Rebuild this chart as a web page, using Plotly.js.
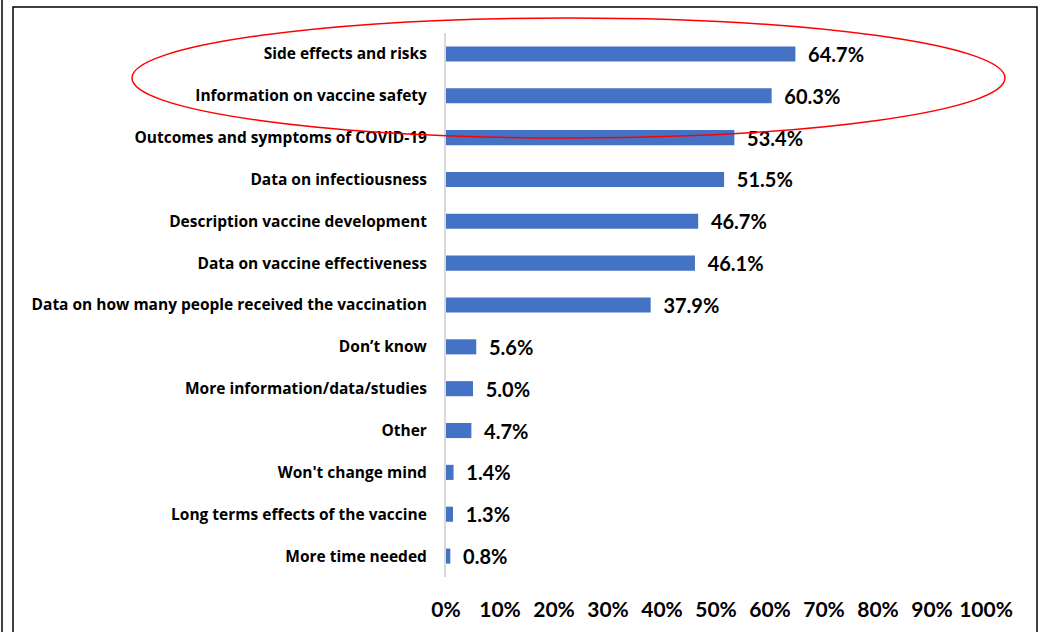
<!DOCTYPE html>
<html><head><meta charset="utf-8">
<script src="https://cdn.plot.ly/plotly-3.0.1.min.js"></script>
<style>html,body{margin:0;padding:0;background:#fff}#chart{width:1046px;height:632px}</style>
</head><body><div id="chart"></div>
<script>
const categories = [
  "Side effects and risks",
  "Information on vaccine safety",
  "Outcomes and symptoms of COVID-19",
  "Data on infectiousness",
  "Description vaccine development",
  "Data on vaccine effectiveness",
  "Data on how many people received the vaccination",
  "Don\u2019t know",
  "More information/data/studies",
  "Other",
  "Won't change mind",
  "Long terms effects of the vaccine",
  "More time needed"
];
const values = [64.7, 60.3, 53.4, 51.5, 46.7, 46.1, 37.9, 5.6, 5.0, 4.7, 1.4, 1.3, 0.8];
const tickVals = [0,10,20,30,40,50,60,70,80,90,100];
const tickLabels = ["0%","10%","20%","30%","40%","50%","60%","70%","80%","90%","100%"];

const FONT = "Lato, 'Open Sans', sans-serif";
const CATFONT = "'Open Sans', Lato, sans-serif";
const L = 446, R = 60, T = 33, B = 55, W = 1046, H = 632;
const pw = W - L - R, ph = H - T - B;
const px = x => (x - L) / pw;
const py = y => (H - B - y) / ph;

const trace = {
  type: 'bar', orientation: 'h',
  x: values, y: categories,
  marker: {color: '#4472C4'},
  text: values.map(v => '\u00a0\u00a0' + v.toFixed(1) + '%'),
  textposition: 'outside',
  constraintext: 'none',
  textfont: {family: FONT, size: 20, color: '#000', weight: 'bold'},
  cliponaxis: false,
  hoverinfo: 'none'
};

const layout = {
  width: W, height: H,
  margin: {l: L, r: R, t: T, b: B, pad: 0},
  paper_bgcolor: '#fff', plot_bgcolor: '#fff',
  showlegend: false,
  bargap: 0.64,
  font: {family: FONT, color: '#000'},
  xaxis: {
    range: [0, 100], tickvals: tickVals, ticktext: tickLabels,
    showgrid: false, zeroline: false, showline: false, ticks: '',
    ticklabelstandoff: 18,
    tickfont: {family: FONT, size: 21, color: '#000', weight: 'bold'},
    fixedrange: true
  },
  yaxis: {
    type: 'category', categoryorder: 'array', categoryarray: categories,
    autorange: 'reversed',
    showgrid: false, zeroline: false,
    showline: true, linecolor: '#d9d9d9', linewidth: 2,
    ticks: '', ticklabelstandoff: 14,
    tickfont: {family: CATFONT, size: 15.5, color: '#000', weight: 'bold'},
    fixedrange: true
  },
  shapes: [
    {type: 'line', xref: 'paper', yref: 'paper', x0: px(2), x1: px(2), y0: py(-5), y1: py(640),
     line: {color: '#000', width: 1.5}},
    {type: 'rect', xref: 'paper', yref: 'paper', x0: px(13), x1: px(1037), y0: py(645), y1: py(7),
     line: {color: '#000', width: 1.5}},
    {type: 'circle', xref: 'paper', yref: 'paper', x0: px(132), x1: px(1005), y0: py(138), y1: py(18),
     line: {color: '#ff0000', width: 1.5}}
  ]
};

Plotly.newPlot('chart', [trace], layout, {displayModeBar: false, staticPlot: true});
</script></body></html>
